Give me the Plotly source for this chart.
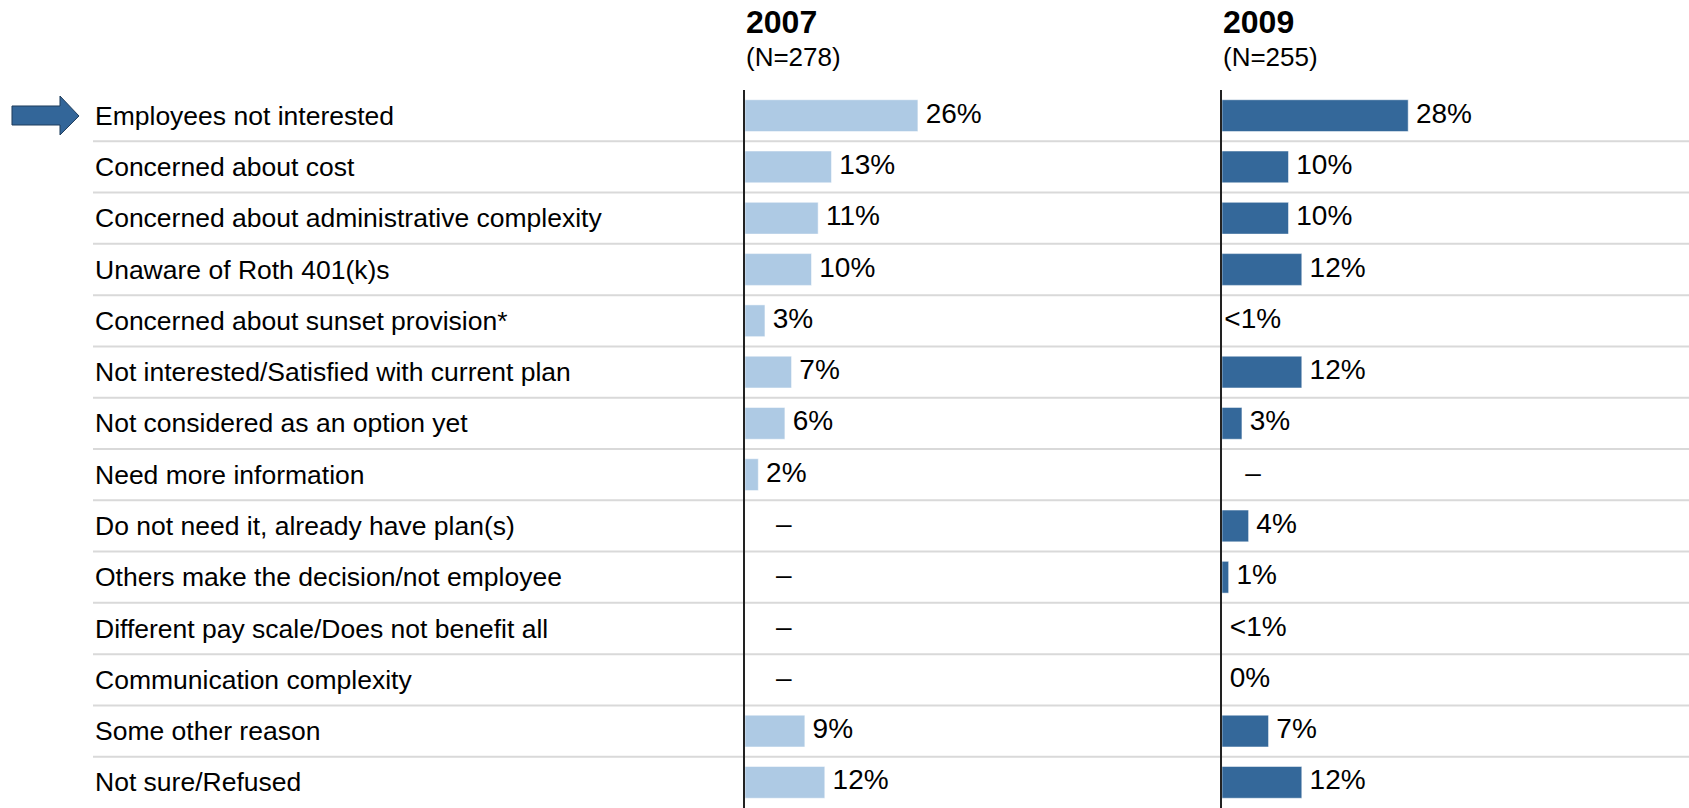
import plotly.graph_objects as go

# ── Data ──────────────────────────────────────────────────────────────────────
reasons = [
    "Employees not interested",
    "Concerned about cost",
    "Concerned about administrative complexity",
    "Unaware of Roth 401(k)s",
    "Concerned about sunset provision*",
    "Not interested/Satisfied with current plan",
    "Not considered as an option yet",
    "Need more information",
    "Do not need it, already have plan(s)",
    "Others make the decision/not employee",
    "Different pay scale/Does not benefit all",
    "Communication complexity",
    "Some other reason",
    "Not sure/Refused",
]
pct_2007 = [26, 13, 11, 10, 3, 7, 6, 2, None, None, None, None, 9, 12]
pct_2009 = [28, 10, 10, 12, None, 12, 3, None, 4, 1, None, 0, 7, 12]
lbl_2007 = ["26%", "13%", "11%", "10%", "3%", "7%", "6%", "2%",
            "–", "–", "–", "–", "9%", "12%"]
lbl_2009 = ["28%", "10%", "10%", "12%", "<1%", "12%", "3%", "–",
            "4%", "1%", "<1%", "0%", "7%", "12%"]
years = ["2007", "2009"]
sample_n = ["(N=278)", "(N=255)"]

# ── Style ─────────────────────────────────────────────────────────────────────
W, H, TOP = 1689, 808, 90
PX_PER_PCT = 6.65
X0 = [745, 1222]          # pixel x of each panel's axis line
LABEL_X = 93
C = {"light": "#aecae4", "dark": "#34689a", "sep": "#d9d9d9", "text": "#000000"}
FONT = "Liberation Sans, Arial, sans-serif"
NB = "\u00a0"


def _px(x):
    return x / W


def _py(y):
    return (H - y) / (H - TOP)


def _labels(vals, lbls, dash_pad):
    # dashes sit further in; the first "<1%" hugs the axis
    out, seen_lt = [], False
    for v, t in zip(vals, lbls):
        if t == "–":
            out.append(NB * dash_pad + t)
        elif t.startswith("<") and not seen_lt:
            seen_lt = True
            out.append("\u200a" + t)
        else:
            out.append(NB + t)
    return out


fig = go.Figure()
panels = [(pct_2007, lbl_2007, C["light"], 4, "x", "y"),
          (pct_2009, lbl_2009, C["dark"], 3, "x2", "y2")]
for vals, lbls, col, dpad, xa, ya in panels:
    fig.add_trace(go.Bar(
        x=vals, y=reasons, orientation="h", xaxis=xa, yaxis=ya,
        marker=dict(color=col, line=dict(color="rgba(255,255,255,0.5)", width=1)),
        hoverinfo="skip",
    ))
    fig.add_trace(go.Scatter(
        x=[v if v is not None else 0 for v in vals], y=reasons,
        mode="text", text=_labels(vals, lbls, dpad),
        textposition="middle right", xaxis=xa, yaxis=ya,
        textfont=dict(size=28, color=C["text"], family=FONT),
        cliponaxis=False, hoverinfo="skip",
    ))

n = len(reasons)
yax = dict(categoryorder="array", categoryarray=reasons, range=[n - 0.5, -0.5],
           domain=[0, 1], showline=True, linecolor="#222222", linewidth=2,
           showticklabels=False, ticks="", showgrid=False, zeroline=False)
xax = dict(showgrid=False, zeroline=False, showticklabels=False, ticks="",
           showline=False)

fig.update_layout(
    width=W, height=H, margin=dict(l=0, r=0, t=TOP, b=0),
    paper_bgcolor="white", plot_bgcolor="white",
    showlegend=False, bargap=0.38,
    font=dict(family=FONT, color=C["text"]),
    xaxis=dict(xax, domain=[_px(X0[0]), _px(X0[1])],
               range=[0, (X0[1] - X0[0]) / PX_PER_PCT], anchor="y"),
    xaxis2=dict(xax, domain=[_px(X0[1]), 1],
                range=[0, (W - X0[1]) / PX_PER_PCT], anchor="y2"),
    yaxis=dict(yax, anchor="x"),
    yaxis2=dict(yax, anchor="x2", matches="y"),
)

# row separators
for i in range(n - 1):
    fig.add_shape(type="line", xref="paper", yref="y",
                  x0=_px(LABEL_X), x1=1, y0=i + 0.5, y1=i + 0.5,
                  line=dict(color=C["sep"], width=2), layer="below")

# category labels
for r in reasons:
    fig.add_annotation(text=r, xref="paper", yref="y", x=_px(LABEL_X), y=r,
                       xanchor="left", yanchor="middle", showarrow=False,
                       font=dict(size=26.5, color=C["text"], family=FONT))

# column headers
for x, yr, nn in zip(X0, years, sample_n):
    fig.add_annotation(text=f"<b>{yr}</b>", xref="paper", yref="paper",
                       x=_px(x - 1), y=_py(22), xanchor="left", yanchor="middle",
                       showarrow=False, font=dict(size=32, family=FONT))
    fig.add_annotation(text=nn, xref="paper", yref="paper",
                       x=_px(x - 1), y=_py(57), xanchor="left", yanchor="middle",
                       showarrow=False, font=dict(size=26, family=FONT))

# highlight arrow on the first row
pts = [(12, 106), (60, 106), (60, 96), (79, 116), (60, 135), (60, 125), (12, 125)]
path = "M " + " L ".join(f"{_px(x):.5f},{_py(y):.5f}" for x, y in pts) + " Z"
fig.add_shape(type="path", path=path, xref="paper", yref="paper",
              fillcolor="#336699", line=dict(color="#1f3d5c", width=1))

fig.write_html("out.html", config={"displayModeBar": False},
               post_script="document.body.style.margin='0';")
